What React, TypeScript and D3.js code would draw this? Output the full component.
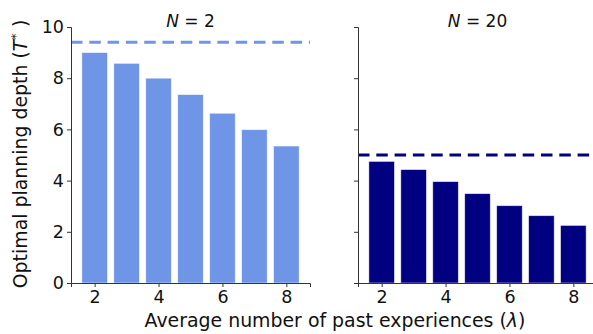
import React, { useEffect, useRef } from "react";
import * as d3 from "d3";

// average number of past experiences (lambda)
const lambdas = [2, 3, 4, 5, 6, 7, 8];
// optimal planning depth per lambda
const depthN2 = [9.0, 8.58, 8.0, 7.36, 6.63, 5.99, 5.35];
const depthN20 = [4.75, 4.43, 3.96, 3.49, 3.02, 2.63, 2.25];
// dashed reference lines
const limitN2 = 9.4;
const limitN20 = 5.0;
const yTicks = [0, 2, 4, 6, 8, 10];
const xTicks = [2, 4, 6, 8];

const panels = [
  { n: "2", values: depthN2, limit: limitN2, color: "#6f95e6", left: 71, labels: true },
  { n: "20", values: depthN20, limit: limitN20, color: "#000080", left: 358, labels: false },
];

const App = () => {
  const ref = useRef<SVGSVGElement>(null);

  useEffect(() => {
    const svg = d3.select(ref.current);
    svg.selectAll("*").remove();
    const font = "DejaVu Sans, sans-serif";
    const top = 27;
    const bottom = 283;
    const w = 239;

    const y = d3.scaleLinear().domain([0, 10]).range([bottom, top]);

    panels.forEach((p) => {
      const x = d3.scaleLinear().domain([1.26, 8.74]).range([p.left, p.left + w]);
      const g = svg.append("g");

      // bars
      g.selectAll("rect")
        .data(lambdas)
        .enter()
        .append("rect")
        .attr("x", (d) => x(d - 0.4))
        .attr("width", x(0.8) - x(0))
        .attr("y", (d, i) => y(p.values[i]))
        .attr("height", (d, i) => y(0) - y(p.values[i]))
        .attr("fill", p.color)
        .attr("stroke", "rgba(255,255,255,0.6)")
        .attr("stroke-width", 0.8);

      // dashed line
      g.append("line")
        .attr("x1", p.left)
        .attr("x2", p.left + w)
        .attr("y1", y(p.limit))
        .attr("y2", y(p.limit))
        .attr("stroke", p.color)
        .attr("stroke-width", 3)
        .attr("stroke-dasharray", "11.5,6.8");

      // axes
      const yAxis = d3.axisLeft(y).tickValues(yTicks).tickSize(4).tickPadding(3);
      if (!p.labels) yAxis.tickFormat(() => "");
      const ya = g.append("g").attr("transform", `translate(${p.left},0)`).call(yAxis);
      const xa = g
        .append("g")
        .attr("transform", `translate(0,${bottom})`)
        .call(d3.axisBottom(x).tickValues(xTicks).tickSize(4).tickPadding(4));
      [ya, xa].forEach((a) => {
        a.select(".domain").attr("stroke", "#333").attr("stroke-width", 1);
        a.selectAll(".tick line").attr("stroke", "#333");
        a.selectAll("text").attr("font-family", font).attr("font-size", 17.5).attr("fill", "#111");
      });

      // title
      const t = g
        .append("text")
        .attr("x", p.left + w / 2)
        .attr("y", 27)
        .attr("text-anchor", "middle")
        .attr("font-family", font)
        .attr("font-size", 17)
        .attr("fill", "#111");
      t.append("tspan").attr("font-style", "italic").text("N");
      t.append("tspan").text(` = ${p.n}`);
    });

    // x label
    const xl = svg
      .append("text")
      .attr("x", 335)
      .attr("y", 327)
      .attr("text-anchor", "middle")
      .attr("font-family", font)
      .attr("font-size", 18.9)
      .attr("fill", "#111");
    xl.append("tspan").text("Average number of past experiences (");
    xl.append("tspan").attr("font-style", "italic").text("λ");
    xl.append("tspan").text(")");

    // y label
    const yl = svg
      .append("text")
      .attr("transform", `translate(27,154) rotate(-90)`)
      .attr("text-anchor", "middle")
      .attr("font-family", font)
      .attr("font-size", 18.9)
      .attr("fill", "#111");
    yl.append("tspan").text("Optimal planning depth (");
    yl.append("tspan").attr("font-style", "italic").text("T");
    yl.append("tspan").attr("font-size", 13).attr("dy", -7).text("*");
    yl.append("tspan").attr("dy", 7).text(" )");
  }, []);

  return (
    <svg
      ref={ref}
      width={593}
      height={334}
      style={{ position: "absolute", left: 0, top: 0, background: "#fff" }}
    />
  );
};

export default App;
